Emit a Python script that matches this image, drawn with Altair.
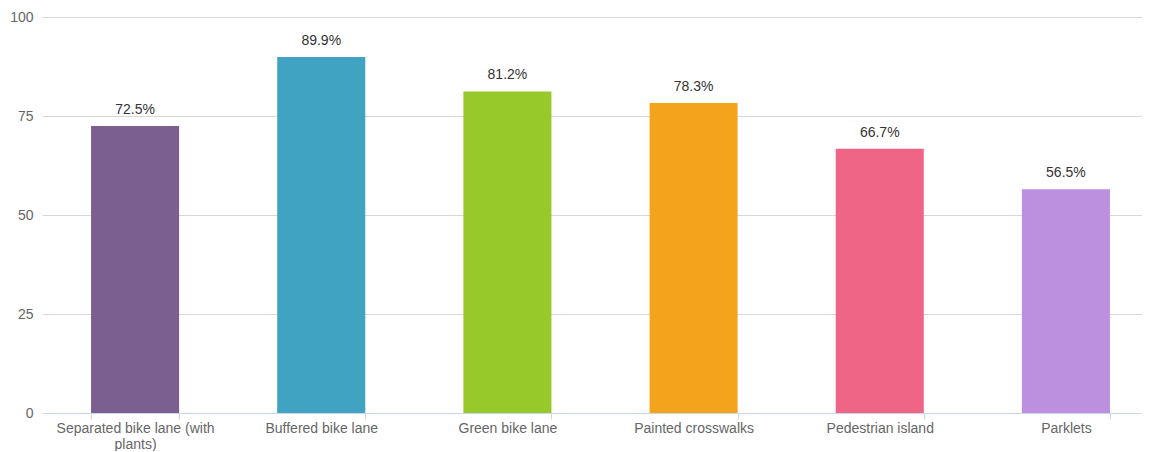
import altair as alt
import pandas as pd

categories = [
    "Separated bike lane (with plants)",
    "Buffered bike lane",
    "Green bike lane",
    "Painted crosswalks",
    "Pedestrian island",
    "Parklets",
]
values = [72.5, 89.9, 81.2, 78.3, 66.7, 56.5]
colors = ["#7b5f90", "#41a3c2", "#98c92a", "#f4a41c", "#ef6586", "#bc8fdf"]
y_ticks = [0, 25, 50, 75, 100]

df = pd.DataFrame({"category": categories, "value": values, "color": colors})
df["label"] = df["value"].map(lambda v: f"{v:.1f}%")

font = "Liberation Sans"

x_enc = alt.X(
    "category:N",
    sort=None,
    title=None,
    scale=alt.Scale(paddingInner=0.527, paddingOuter=0.2635),
    axis=alt.Axis(
        labelAngle=0,
        labelFont=font,
        labelFontSize=14,
        labelColor="#666666",
        labelPadding=2,
        tickBand="extent",
        tickSize=6,
        tickColor="#ccd6eb",
        domainColor="#ccd6eb",
        labelExpr="datum.label == 'Separated bike lane (with plants)' ? ['Separated bike lane (with', 'plants)'] : datum.label",
        labelLineHeight=16,
        grid=False,
    ),
)

y_enc = alt.Y(
    "value:Q",
    title=None,
    scale=alt.Scale(domain=[0, 100]),
    axis=alt.Axis(
        values=y_ticks,
        labelFont=font,
        labelFontSize=14,
        labelColor="#666666",
        labelPadding=9,
        ticks=False,
        domain=False,
        gridColor="#d8d8d8",
    ),
)

bars = alt.Chart(df).mark_bar().encode(
    x=x_enc,
    y=y_enc,
    color=alt.Color("color:N", scale=None),
)

text = alt.Chart(df).mark_text(
    baseline="alphabetic", dy=-12, font=font, fontSize=14, color="#333333"
).encode(
    x=alt.X("category:N", sort=None),
    y="value:Q",
    text="label:N",
)

chart = (
    alt.layer(bars, text)
    .properties(
        width=1117,
        height=396,
        autosize=alt.AutoSizeParams(type="none"),
        padding={"left": 34, "top": 9, "right": -17, "bottom": 38},
    )
    .configure_view(stroke=None)
)

chart.save("out.html", embed_options={"renderer": "svg", "actions": False})
